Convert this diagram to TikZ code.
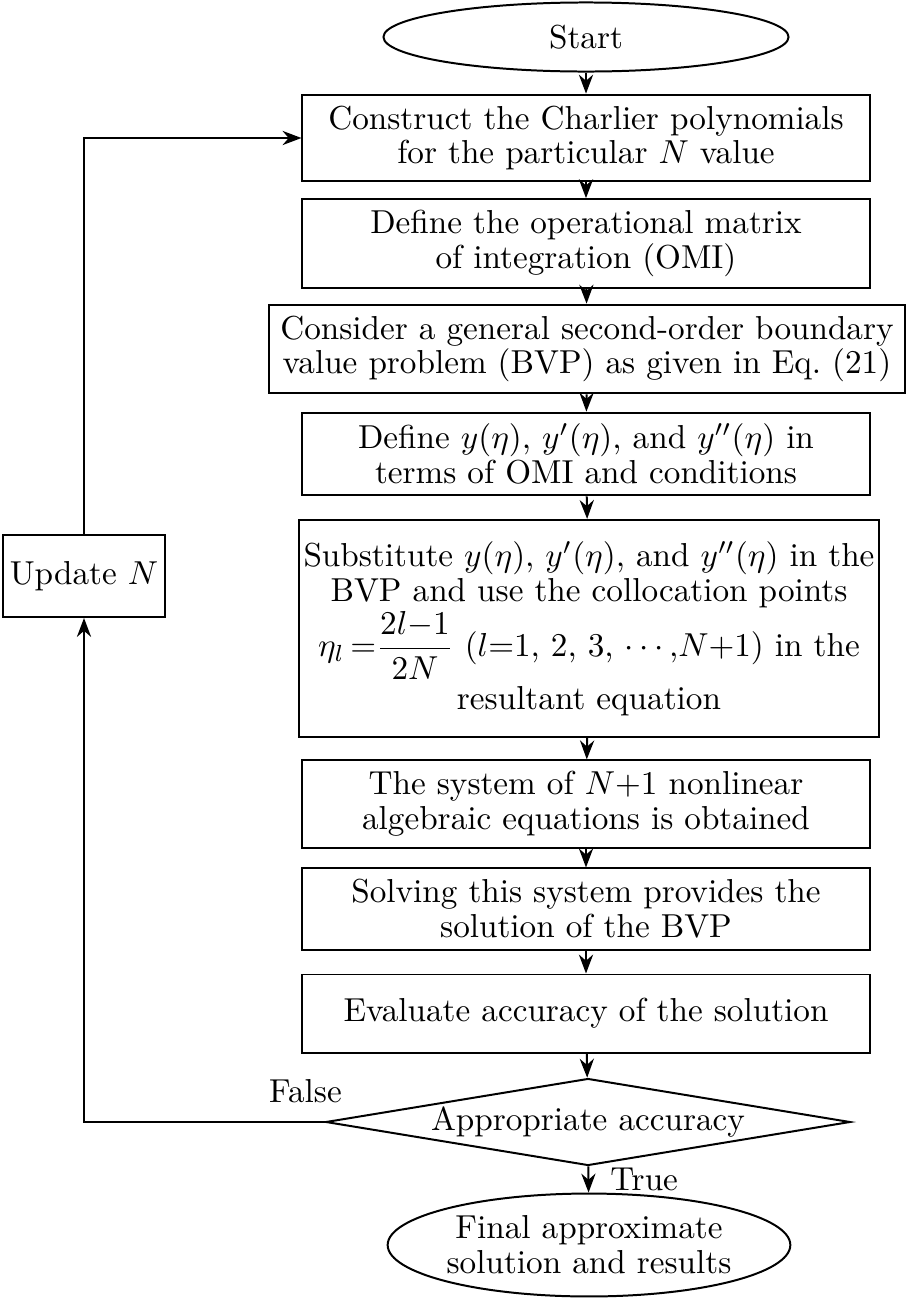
\documentclass[tikz,border=0pt]{standalone}
\usepackage{tikz}
\usetikzlibrary{shapes.geometric, arrows.meta, positioning, calc}
\usepackage{amsmath}
\usepackage{amssymb}
\tikzstyle{startstop} = [ellipse, draw, semithick, inner sep=0pt, align=center, font=\fontsize{10pt}{10.5pt}\selectfont]
\tikzstyle{process} = [rectangle, draw, semithick, minimum width=170.8pt, minimum height=23.5pt, align=center, font=\fontsize{10pt}{10.5pt}\selectfont]
\tikzstyle{decision} = [diamond, draw, semithick, aspect=6, inner sep=0pt, minimum width=158pt, minimum height=26.2pt, font=\fontsize{10pt}{10.5pt}\selectfont]
\tikzstyle{arrow} = [semithick,->,>=Stealth]

\begin{document}
\begin{tikzpicture}[x=0.3012pt, y=-0.3012pt]
    \useasboundingbox (0,0) rectangle (910,1302);

    % Start and end
    \node[startstop, minimum width=122pt, minimum height=20.8pt] (start) at (586, 37) {Start};
    \node[startstop, minimum width=120pt, minimum height=31pt] (final) at (589, 1245) {Final approximate\\solution and results};

    % Main steps
    \node[process] (charlier) at (586, 138) {Construct the Charlier polynomials\\for the particular $N$ value};
    \node[process] (omi) at (586, 243.5) {Define the operational matrix\\of integration (OMI)};
    \node[process] (bvp) at (587, 349) {Consider a general second-order boundary\\value problem (BVP) as given in Eq.~(21)};
    \node[process] (deriv) at (586, 454) {Define $y(\eta)$, $y'(\eta)$, and $y''(\eta)$ in\\terms of OMI and conditions};
    \node[process, minimum height=65.4pt, inner xsep=1.5pt] (subst) at (589, 628.5) {
        Substitute $y(\eta)$, $y'(\eta)$, and $y''(\eta)$ in the\\
        BVP and use the collocation points\\
        $\eta_l\,{=}\dfrac{2l{-}1}{2N}$ $(l{=}1$, 2, 3, $\cdots$,$N{+}1)$ in the\\[1pt]
        resultant equation};
    \node[process] (system) at (586, 804) {The system of $N{+}1$ nonlinear\\algebraic equations is obtained};
    \node[process] (solve) at (586, 909) {Solving this system provides the\\solution of the BVP};
    \node[process] (eval) at (586, 1013.5) {Evaluate accuracy of the solution};

    % Check and loop
    \node[decision] (check) at (588, 1122) {Appropriate accuracy};
    \node[process, minimum width=47pt, minimum height=24.7pt, inner sep=2pt] (update) at (84, 576) {Update $N$};

    % Connections
    \draw[arrow] (start) -- (charlier);
    \draw[arrow] (charlier) -- (omi);
    \draw[arrow] (omi) -- (bvp);
    \draw[arrow] (bvp) -- (deriv);
    \draw[arrow] (deriv) -- (subst);
    \draw[arrow] (subst) -- (system);
    \draw[arrow] (system) -- (solve);
    \draw[arrow] (solve) -- (eval);
    \draw[arrow] (eval) -- (check);
    \draw[arrow] (check) -- node[right, xshift=3pt, font=\fontsize{10pt}{10.5pt}\selectfont] {True} (final);
    \draw[arrow] (check.west) -- node[pos=0.08, above, yshift=2pt, font=\fontsize{10pt}{10.5pt}\selectfont] {False} (check.west -| update.south) -- (update.south);
    \draw[arrow] (update.north) |- (charlier.west);
\end{tikzpicture}
\end{document}
